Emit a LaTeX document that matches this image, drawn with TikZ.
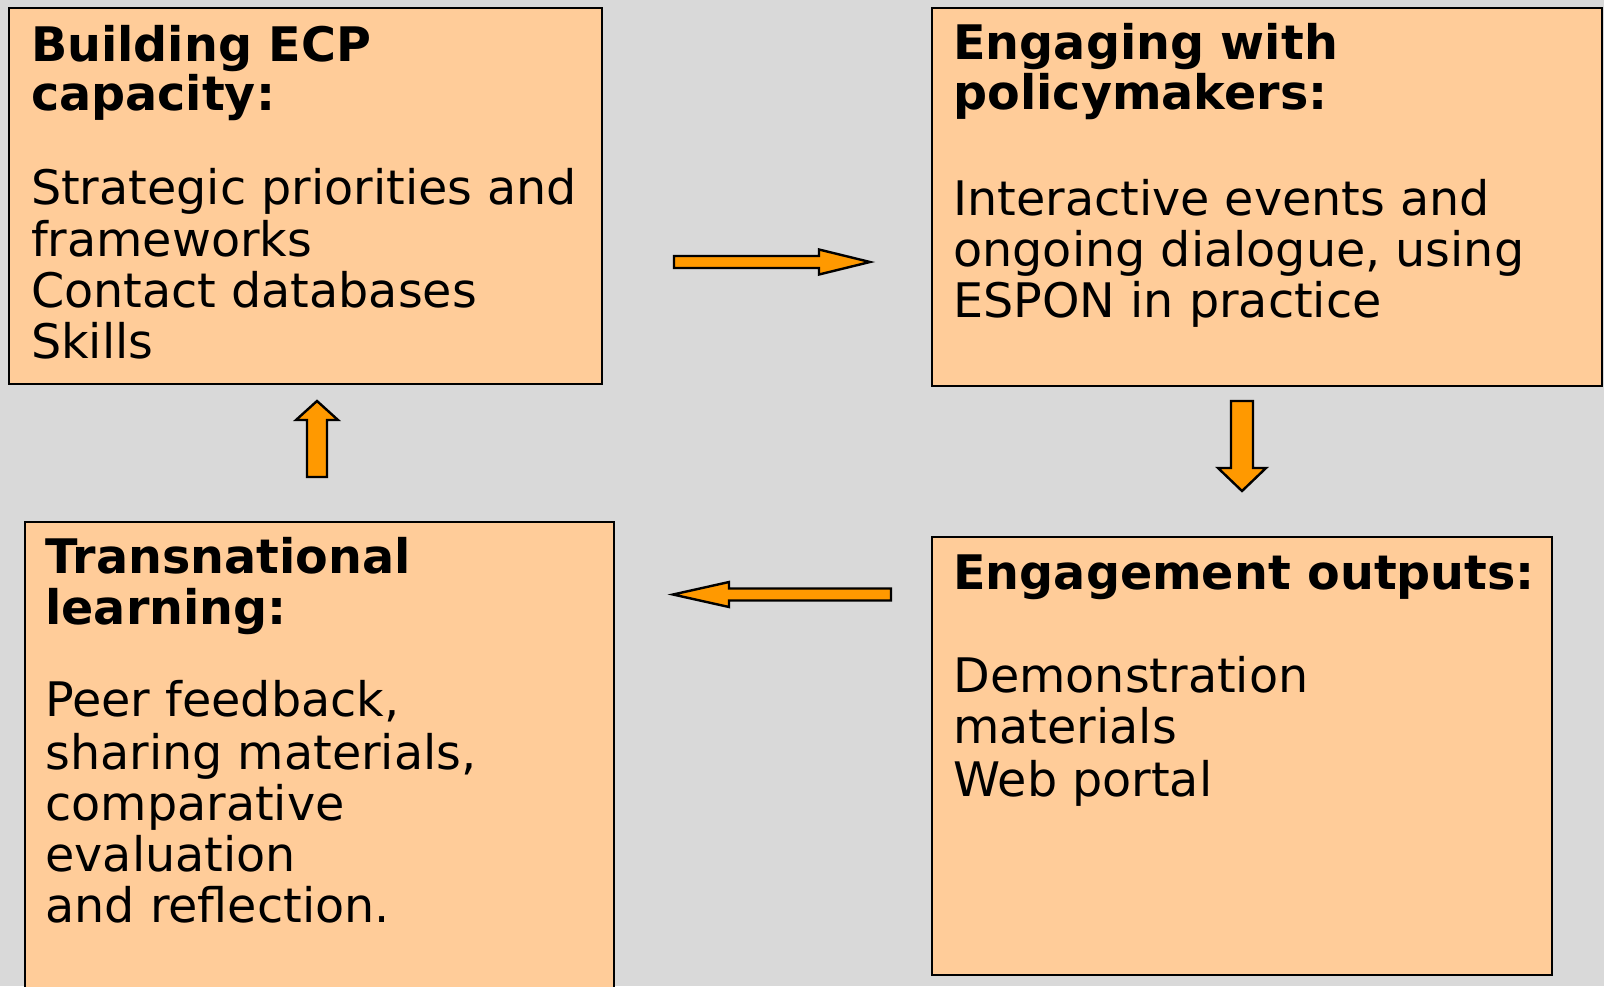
\documentclass[tikz,border=0pt]{standalone}
\usepackage{fontspec}
\setmainfont{DejaVu Sans}
\definecolor{bggray}{RGB}{217,217,217}
\definecolor{peach}{RGB}{255,204,153}
\definecolor{arroworange}{RGB}{255,153,0}
\tikzset{
  box/.style={draw=black, line width=1pt, fill=peach},
  blockarrow/.style={draw=black, line width=1.2pt, fill=arroworange, line join=miter},
  txt/.style={anchor=base west, inner sep=0pt, font=\fontsize{23.8}{25.6}\selectfont},
  head/.style={txt, font=\fontsize{23.8}{25.6}\selectfont\bfseries},
}
\begin{document}
\begin{tikzpicture}[x=0.5pt,y=-0.5pt]
\useasboundingbox (0,0) rectangle (1604,986);
\clip (0,0) rectangle (1604,986);
\fill[bggray] (0,0) rectangle (1604,986);

% boxes
\draw[box] (9,8) rectangle (601.5,383.5);
\draw[box] (932,8) rectangle (1602,385.7);
\draw[box] (24.6,521.7) rectangle (613.8,1000);
\draw[box] (932,537) rectangle (1552,975);

% box 1
\node[head] (b1h1) at (30.7,61.4) {Building ECP};
\node[head] (b1h2) at (30.7,110.5) {capacity:};
\node[txt] (b1l1) at (30.7,204.6) {Strategic priorities and};
\node[txt] (b1l2) at (30.7,256) {frameworks};
\node[txt] (b1l3) at (30.7,307) {Contact databases};
\node[txt] (b1l4) at (30.7,358.7) {Skills};

% box 2
\node[head] (b2h1) at (953,59.3) {Engaging with};
\node[head] (b2h2) at (953,109.5) {policymakers:};
\node[txt] (b2l1) at (953,215) {Interactive events and};
\node[txt] (b2l2) at (953,266) {ongoing dialogue, using};
\node[txt] (b2l3) at (953,317) {ESPON in practice};

% box 4
\node[head] (b4h1) at (953,589) {Engagement outputs:};
\node[txt] (b4l1) at (953,692.6) {Demonstration};
\node[txt] (b4l2) at (953,743.7) {materials};
\node[txt] (b4l3) at (953,796) {Web portal};

% box 3
\node[head] (b3h1) at (45,573) {Transnational};
\node[head] (b3h2) at (45,624) {learning:};
\node[txt] (b3l1) at (45,716) {Peer feedback,};
\node[txt] (b3l2) at (45,769) {sharing materials,};
\node[txt] (b3l3) at (45,820) {comparative};
\node[txt] (b3l4) at (45,871.6) {evaluation};
\node[txt] (b3l5) at (45,922.7) {and reflection.};

% block arrows
\draw[blockarrow] (674,256) -- (819,256) -- (819,249.5) -- (870,262) -- (819,274.5) -- (819,268) -- (674,268) -- cycle;
\draw[blockarrow] (1231,401) -- (1253,401) -- (1253,468) -- (1266,468) -- (1242,491) -- (1218,468) -- (1231,468) -- cycle;
\draw[blockarrow] (307,477) -- (307,420) -- (296,420) -- (317,401) -- (338,420) -- (327,420) -- (327,477) -- cycle;
\draw[blockarrow] (891,588.5) -- (729,588.5) -- (729,582) -- (673,594.5) -- (729,607) -- (729,600.5) -- (891,600.5) -- cycle;
\end{tikzpicture}
\end{document}
